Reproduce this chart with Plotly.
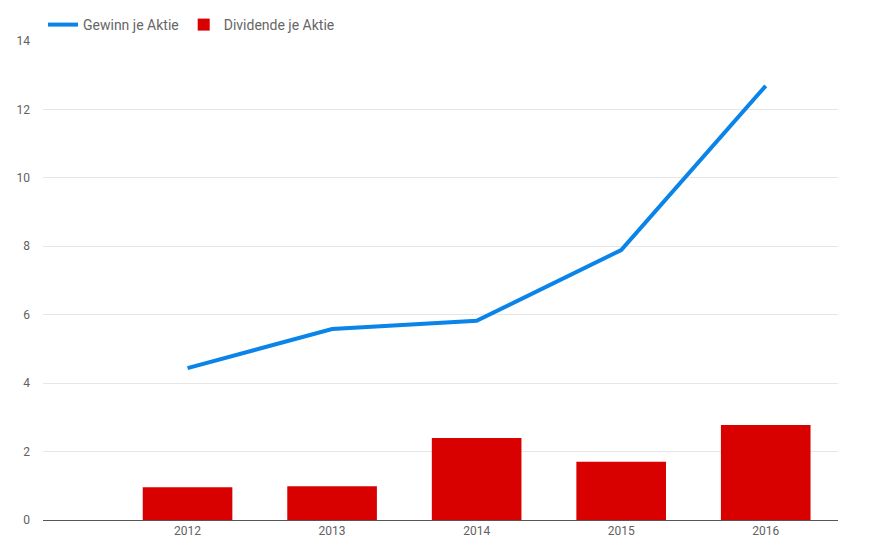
import plotly.graph_objects as go

years = ["2012", "2013", "2014", "2015", "2016"]
gewinn = [4.44, 5.58, 5.82, 7.89, 12.69]
dividende = [0.96, 0.99, 2.40, 1.70, 2.78]
y_ticks = [0, 2, 4, 6, 8, 10, 12, 14]

fig = go.Figure()
fig.add_trace(go.Bar(x=years, y=dividende, name="Dividende je Aktie",
                     marker=dict(color="#d90000", line=dict(width=0)), width=0.62))
fig.add_trace(go.Scatter(x=years, y=gewinn, name="Gewinn je Aktie", mode="lines",
                         line=dict(color="#0a84e8", width=4)))

fig.update_layout(
    width=877, height=550,
    margin=dict(l=35, r=47, t=33, b=38, autoexpand=False),
    paper_bgcolor="white", plot_bgcolor="white",
    font=dict(family="Roboto", color="#616161", size=12),
    showlegend=True,
    legend=dict(orientation="h", x=0, xanchor="left", y=1.0, yanchor="bottom",
                traceorder="reversed", font=dict(size=14, color="#666666"),
                itemwidth=30),
    xaxis=dict(type="category", range=[-1, 4.5], showgrid=False, ticks="",
               showline=True, linecolor="#555555", linewidth=1,
               tickfont=dict(size=12, color="#616161")),
    yaxis=dict(range=[0, 14], tickvals=y_ticks, showgrid=True, gridcolor="#e6e6e6",
               zeroline=False, ticks="", tickfont=dict(size=12, color="#616161"),
               ticklabelstandoff=12),
)
fig.write_html("out.html")
